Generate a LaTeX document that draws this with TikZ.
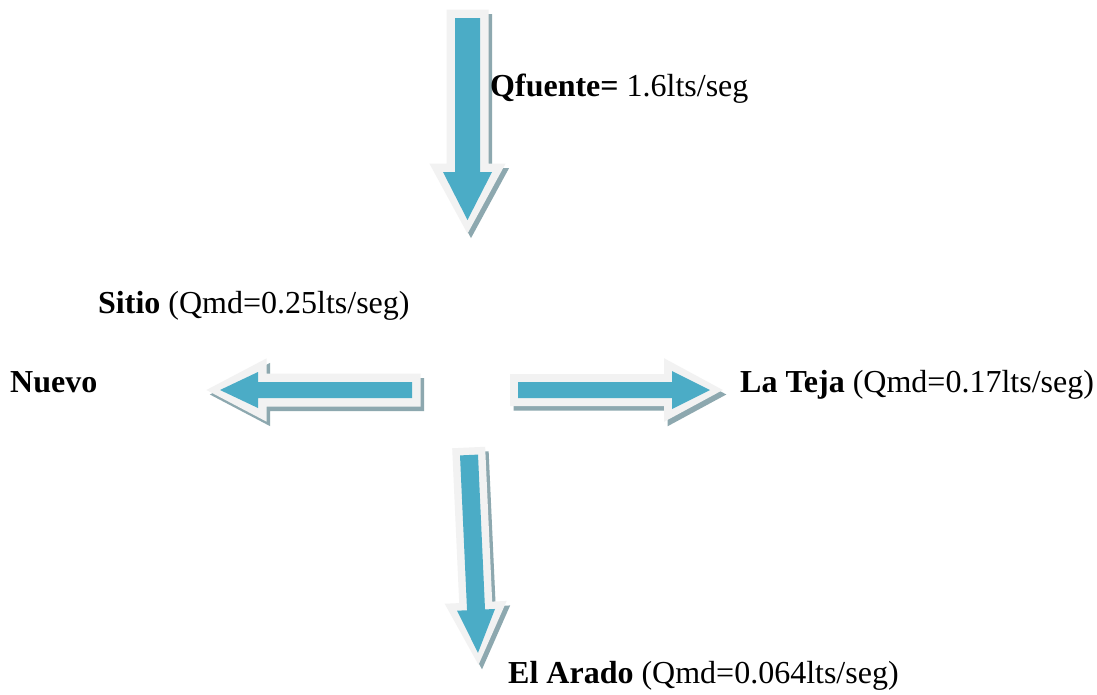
\documentclass[tikz,border=0pt]{standalone}
\usepackage{fontspec}
\setmainfont{Liberation Serif}
\definecolor{arrowblue}{HTML}{4BACC6}
\definecolor{arrowrim}{HTML}{F2F2F2}
\definecolor{arrowshade}{HTML}{8DA8AF}
% Block arrow with light rim and drop shadow.
% #1,#2 tail centre; #3 direction (canvas angle); #4 length; #5 shaft half-width;
% #6 head half-width; #7 head length; #8 rim width
\newcommand\flowarrow[8]{%
  \begin{scope}[shift={(#1+3.5,#2+4.5)},rotate=#3]
    \fill[arrowshade] (-#8,-#5-#8) -- (#4-#7-#8,-#5-#8) -- (#4-#7-#8,-#6-1.6*#8)
      -- (#4+1.6*#8,0) -- (#4-#7-#8,#6+1.6*#8) -- (#4-#7-#8,#5+#8) -- (-#8,#5+#8) -- cycle;
  \end{scope}
  \begin{scope}[shift={(#1,#2)},rotate=#3]
    \fill[arrowrim] (-#8,-#5-#8) -- (#4-#7-#8,-#5-#8) -- (#4-#7-#8,-#6-1.6*#8)
      -- (#4+1.6*#8,0) -- (#4-#7-#8,#6+1.6*#8) -- (#4-#7-#8,#5+#8) -- (-#8,#5+#8) -- cycle;
    \fill[arrowblue] (0,-#5) -- (#4-#7,-#5) -- (#4-#7,-#6) -- (#4,0)
      -- (#4-#7,#6) -- (#4-#7,#5) -- (0,#5) -- cycle;
  \end{scope}}
\begin{document}
\begin{tikzpicture}[x=1pt,y=-1pt,
  lbl/.style={anchor=base west,inner sep=0pt,font=\fontsize{32}{38}\selectfont}]
\useasboundingbox[fill=white] (0,0) rectangle (1097,694);
% supply from the source
\flowarrow{467.5}{18}{-90}{202}{12.5}{24.5}{48}{8.5}
% distribution branches
\flowarrow{412}{390}{180}{192}{8}{18}{38}{8.5}
\flowarrow{518}{390}{0}{192}{8}{19}{38}{8}
\flowarrow{469}{455}{-87.4}{198}{9}{19}{43}{7.5}
% labels
\node[lbl] (qf) at (490,96) {\textbf{Qfuente=} 1.6lts/seg};
\node[lbl] (sitio) at (98,313) {\textbf{Sitio} (Qmd=0.25lts/seg)};
\node[lbl] (nuevo) at (10,392) {\textbf{Nuevo}};
\node[lbl] (teja) at (740,392) {\textbf{La Teja} (Qmd=0.17lts/seg)};
\node[lbl] (arado) at (508,683) {\textbf{El Arado} (Qmd=0.064lts/seg)};
\end{tikzpicture}
\end{document}
